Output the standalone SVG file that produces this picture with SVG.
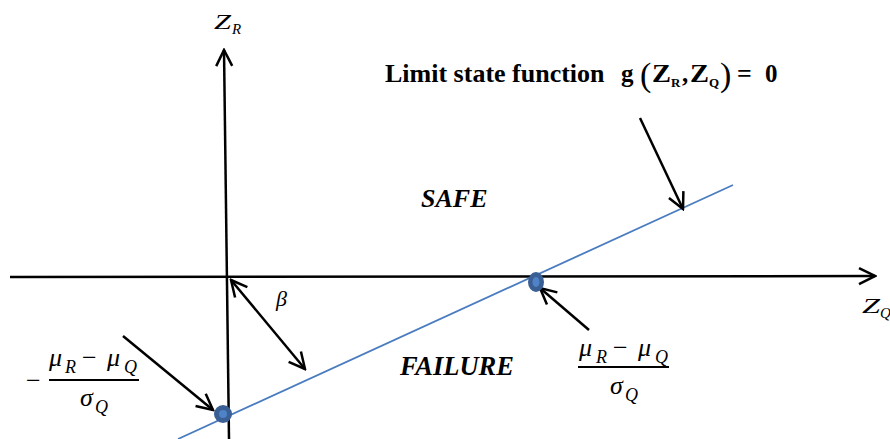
<svg xmlns="http://www.w3.org/2000/svg" width="890" height="439" viewBox="0 0 890 439">
<style>
.ax{stroke:#000;stroke-width:2.5;fill:none}
.ar{stroke:#000;stroke-width:2.5;fill:none}
.m{font-family:"Liberation Serif","DejaVu Serif",serif;font-style:italic;fill:#000}
.n{font-family:"Liberation Serif","DejaVu Serif",serif;fill:#000}
.b{font-family:"Liberation Serif",serif;font-weight:bold;fill:#000}
.bi{font-family:"Liberation Serif",serif;font-weight:bold;font-style:italic;fill:#000}
</style>
<defs>
<marker id="v" viewBox="0 0 20 20" refX="18" refY="10" markerWidth="20" markerHeight="20" markerUnits="userSpaceOnUse" orient="auto-start-reverse">
<path d="M2,2 L18,10 L2,18" fill="none" stroke="#000" stroke-width="2.5"/>
</marker>
</defs>
<g id="connectors">
<line class="ax" x1="10" y1="277" x2="875" y2="276" marker-end="url(#v)"/>
<line class="ax" x1="229" y1="439" x2="224" y2="50" marker-end="url(#v)"/>
<line x1="178" y1="439" x2="733" y2="185" stroke="#4a7cc0" stroke-width="1.8"/>
<line class="ar" x1="640" y1="118" x2="683" y2="209" marker-end="url(#v)"/>
<line class="ar" x1="123" y1="336" x2="213" y2="410" marker-end="url(#v)"/>
<line class="ar" x1="589" y1="330" x2="540" y2="288" marker-end="url(#v)"/>
<line class="ar" x1="231" y1="280" x2="305" y2="369" marker-start="url(#v)" marker-end="url(#v)"/>
</g>
<g id="point-left">
<circle cx="223" cy="414" r="9" fill="#3a5f94"/>
<circle cx="223" cy="414" r="4" fill="#4f82c6"/>
</g>
<g id="point-right">
<ellipse cx="536" cy="282" rx="8" ry="10" fill="#3a5f94"/>
<ellipse cx="536" cy="282" rx="3.5" ry="5" fill="#4f82c6"/>
</g>
<g id="axis-labels">
<text class="m" x="214" y="29" font-size="21" textLength="17" lengthAdjust="spacingAndGlyphs">Z</text>
<text class="m" x="232" y="34" font-size="15">R</text>
<text class="m" x="862" y="313" font-size="21" textLength="18" lengthAdjust="spacingAndGlyphs">Z</text>
<text class="m" x="880" y="318" font-size="15">Q</text>
</g>
<g id="title">
<text class="b" x="385" y="82" font-size="26">Limit state function</text>
<text class="b" font-size="25" y="82"><tspan x="621">g</tspan><tspan x="640" y="86" font-size="34" font-weight="normal">(</tspan><tspan x="652" y="82" textLength="19" lengthAdjust="spacingAndGlyphs">Z</tspan><tspan x="671" y="87" font-size="13">R</tspan><tspan x="682" y="82">,</tspan><tspan x="690" textLength="19" lengthAdjust="spacingAndGlyphs">Z</tspan><tspan x="709" y="87" font-size="13">Q</tspan><tspan x="720" y="86" font-size="34" font-weight="normal">)</tspan><tspan x="737" y="82" font-size="26">=</tspan><tspan x="765">0</tspan></text>
</g>
<g id="regions">
<text class="bi" x="421" y="207" font-size="26">SAFE</text>
<text class="bi" x="400" y="375" font-size="26.5">FAILURE</text>
<text class="m" x="276" y="306" font-size="22">β</text>
</g>
<g id="frac-left">
<text class="n" x="26" y="389" font-size="26">−</text>
<text class="m" font-size="26" y="366"><tspan x="49">μ</tspan><tspan x="65" y="373" font-size="18">R</tspan><tspan x="82" y="366" class="n" font-style="normal">−</tspan><tspan x="107">μ</tspan><tspan x="124" y="373" font-size="18">Q</tspan></text>
<line x1="49" y1="380" x2="139" y2="380" stroke="#000" stroke-width="2.2"/>
<text class="m" font-size="26" y="406"><tspan x="80">σ</tspan><tspan x="95" y="413" font-size="18">Q</tspan></text>
</g>
<g id="frac-right">
<text class="m" font-size="26" y="356"><tspan x="579">μ</tspan><tspan x="596" y="363" font-size="18">R</tspan><tspan x="613" y="356" class="n" font-style="normal">−</tspan><tspan x="638">μ</tspan><tspan x="655" y="363" font-size="18">Q</tspan></text>
<line x1="578" y1="367" x2="669" y2="367" stroke="#000" stroke-width="2.2"/>
<text class="m" font-size="26" y="394"><tspan x="610">σ</tspan><tspan x="625" y="401" font-size="18">Q</tspan></text>
</g>
</svg>
